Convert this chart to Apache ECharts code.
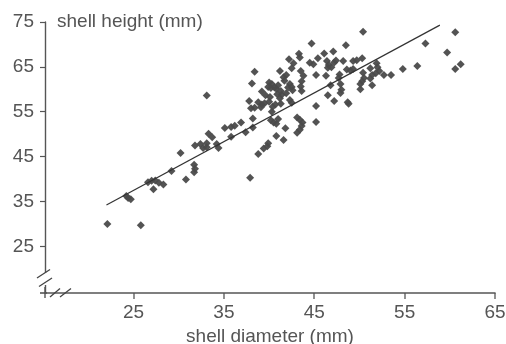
<!DOCTYPE html>
<html>
<head>
<meta charset="utf-8">
<script src="https://cdn.jsdelivr.net/npm/echarts@6/dist/echarts.min.js"></script>
<style>
html,body{margin:0;padding:0;background:#fff;}
#chart{width:506px;height:344px;}
</style>
</head>
<body>
<div id="chart"></div>
<script>
// shell diameter (mm)
var diameter = [22.1,25.8,24.2,24.4,24.7,26.6,27.0,27.4,27.8,27.2,28.3,29.2,30.8,31.7,31.8,31.7,30.2,31.8,32.4,32.7,
33.1,33.1,33.3,33.7,34.2,34.4,33.1,35.1,35.8,35.8,36.2,36.9,37.4,38.2,37.9,37.8,38.1,38.4,38.0,38.4,
38.2,38.8,39.4,39.8,39.9,40.2,40.5,40.8,41.0,40.8,41.6,41.8,43.1,43.4,43.7,43.6,43.4,43.1,45.2,45.2,
38.8,39.2,39.5,39.1,39.2,39.6,40.1,40.0,40.0,40.3,39.9,40.6,40.2,41.0,40.8,41.3,40.9,41.4,41.2,41.9,
42.3,42.5,42.6,42.1,41.6,41.9,41.7,42.3,42.5,40.7,40.4,41.3,40.3,41.2,42.5,43.5,43.8,43.6,43.5,43.6,
42.2,42.7,43.3,43.4,44.7,44.5,44.9,45.4,46.1,47.1,48.5,50.4,46.4,46.6,47.2,47.4,46.5,46.9,48.2,49.3,
49.7,50.3,45.2,46.3,47.8,47.7,48.6,49.0,49.3,51.2,51.9,52.0,52.2,51.8,50.4,50.5,50.3,50.1,51.4,51.2,
52.7,53.5,54.8,56.4,57.3,60.6,59.7,60.6,61.2,51.4,50.1,47.9,48.0,47.9,46.8,46.5,47.2,48.7,48.8];
// shell height (mm)
var height = [30.0,29.7,36.2,35.8,35.5,39.3,39.6,39.7,39.2,37.7,38.8,41.8,39.9,41.5,42.3,43.2,45.8,47.5,47.8,46.9,
48.0,47.1,50.1,49.3,47.8,46.9,58.6,51.4,49.4,51.6,51.9,52.6,50.4,51.5,40.3,57.4,61.3,63.9,55.8,55.9,
53.5,45.6,46.8,47.3,48.0,53.1,52.6,52.3,53.4,49.6,48.7,51.3,53.7,53.2,52.6,51.8,51.0,50.3,52.7,56.3,
57.1,56.6,56.9,56.0,59.5,58.7,58.3,57.2,61.5,61.2,60.5,60.4,60.3,60.9,60.1,59.6,58.9,58.8,58.0,59.1,
61.2,60.5,59.8,60.4,62.7,63.2,61.9,57.6,57.0,56.6,56.1,56.8,55.0,64.1,64.7,64.1,63.0,61.8,60.6,59.6,
66.7,65.8,67.9,67.1,70.2,65.9,65.6,66.9,68.0,68.4,69.8,72.8,66.3,65.4,66.0,66.4,64.8,64.9,66.3,66.3,
66.5,66.9,63.2,63.0,63.3,62.5,64.4,64.2,64.5,64.7,65.8,64.9,64.1,63.6,63.7,62.5,61.8,61.2,63.2,62.4,
63.2,63.2,64.5,65.2,70.2,72.7,68.2,64.5,65.6,60.9,60.0,61.2,59.9,59.2,60.9,58.7,57.4,57.1,56.8];
// regression line end points
var fitX = [22.0, 58.9];
var fitY = [34.2, 74.3];
var xTicks = [25, 35, 45, 55, 65];
var yTicks = [25, 35, 45, 55, 65, 75];
var xMin = 15.2, xMax = 65, yMin = 14.6, yMax = 75;

var pts = diameter.map(function (d, i) { return [d, height[i]]; });
var fit = fitX.map(function (d, i) { return [d, fitY[i]]; });

var axisColor = '#555';
var textColor = '#555';
var font = 'Liberation Sans, Arial, sans-serif';

var chart = echarts.init(document.getElementById('chart'));
chart.setOption({
  animation: false,
  backgroundColor: '#fff',
  title: {
    text: 'shell height (mm)',
    left: 57, top: 12, padding: 0,
    textStyle: {fontSize: 19, fontWeight: 'normal', color: textColor, fontFamily: font}
  },
  grid: {left: 45, top: 22, right: 11, bottom: 51, outerBoundsMode: 'none'},
  xAxis: {
    type: 'value', min: xMin, max: xMax,
    name: 'shell diameter (mm)', nameLocation: 'middle', nameGap: 31,
    nameTextStyle: {fontSize: 19, color: textColor, fontFamily: font},
    axisLine: {show: true, onZero: false, lineStyle: {color: axisColor, width: 1.6}},
    axisTick: {show: false},
    axisLabel: {customValues: xTicks, fontSize: 19, color: textColor, fontFamily: font, margin: 10},
    splitLine: {show: false}
  },
  yAxis: {
    type: 'value', min: yMin, max: yMax,
    axisLine: {show: true, onZero: false, lineStyle: {color: axisColor, width: 1.4}},
    axisTick: {show: true, length: 5, customValues: yTicks, lineStyle: {color: axisColor, width: 1.2}},
    axisLabel: {customValues: yTicks, fontSize: 19, color: textColor, fontFamily: font, margin: 11},
    splitLine: {show: false}
  },
  series: [
    {
      type: 'scatter', data: pts, symbol: 'diamond', symbolSize: 8,
      itemStyle: {color: '#4a4a4a', opacity: 0.95}
    },
    {
      type: 'line', data: fit, symbol: 'none',
      lineStyle: {color: '#333', width: 1.2}
    }
  ]
});

// axis decorations: x ticks, axis breaks
var o = chart.convertToPixel({gridIndex: 0}, [xMin, yMin]);
var x0 = Math.round(o[0]), y0 = Math.round(o[1]);
var g = [];
var ln = function (a, b, c, d, w, col) {
  g.push({type: 'line', silent: true, z: 100, shape: {x1: a, y1: b, x2: c, y2: d}, style: {stroke: col || axisColor, lineWidth: w || 1.2}});
};
ln(x0 - 5, y0, x0 + 2, y0, 1.6);
xTicks.forEach(function (t) {
  var px = Math.round(chart.convertToPixel({gridIndex: 0}, [t, yMin])[0]);
  ln(px, y0, px, y0 + 6, 1.3);
});
// y axis extension below x axis
ln(x0, y0 - 6, x0, y0 + 5, 1.4);
// white gap in y axis
g.push({type: 'rect', silent: true, z: 99, shape: {x: x0 - 3, y: y0 - 20, width: 6, height: 12}, style: {fill: '#fff'}});
// break slashes
ln(x0 - 8, y0 - 15, x0 + 5, y0 - 23.5, 1.3, '#444');
ln(x0 - 6, y0 - 6.5, x0 + 7, y0 - 15, 1.3, '#444');
ln(x0 + 5, y0 + 4, x0 + 15, y0 - 4.5, 1.3, '#444');
ln(x0 + 15, y0 + 4, x0 + 26, y0 - 4.5, 1.3, '#444');
chart.setOption({graphic: g});
</script>
</body>
</html>
